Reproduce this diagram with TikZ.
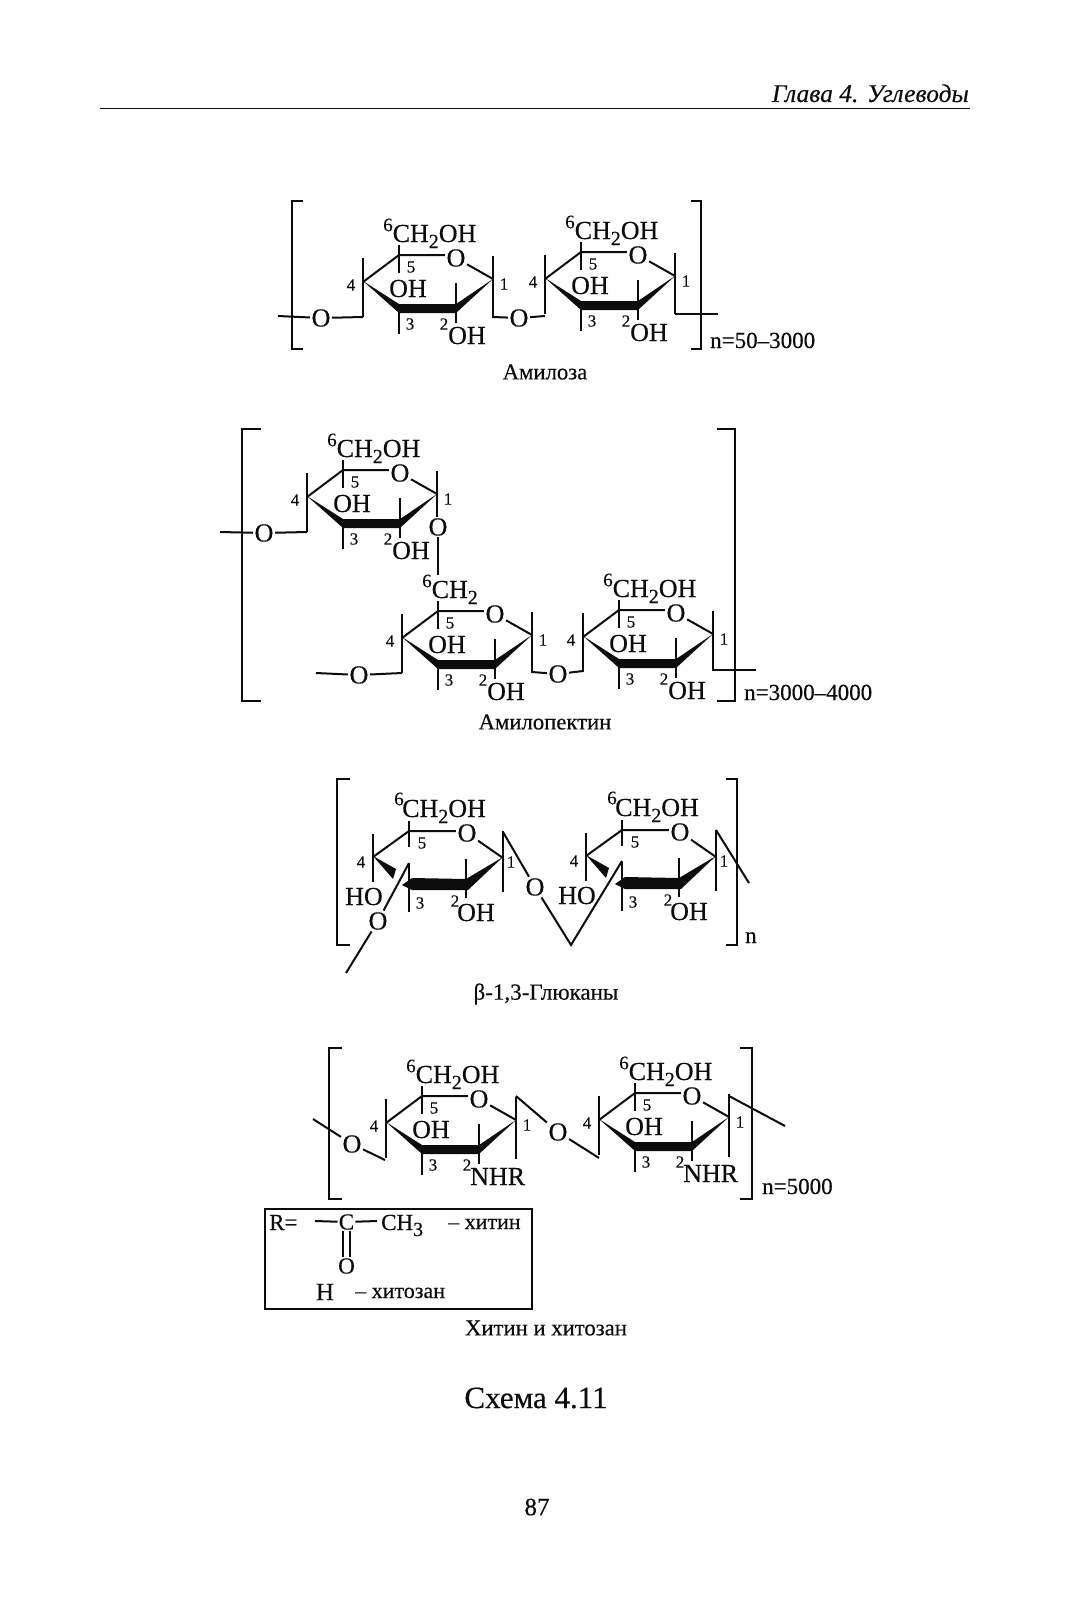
\documentclass[tikz,border=0pt]{standalone}
\usepackage{fontspec}
\setmainfont{Liberation Serif}[FakeBold=0.35]
\newcommand\sbs[1]{\raisebox{-6pt}{\fontsize{20}{20}\selectfont #1}}
\newcommand\fsz[1]{\fontsize{#1}{#1}\selectfont}
\definecolor{ink}{HTML}{0C0C0C}
\tikzset{
  x=1pt,y=-1pt,
  bond/.style={line width=2pt,line cap=butt,line join=miter,draw=ink},
  brk/.style={line width=2.5pt,draw=ink},
  wedgefill/.style={fill=ink,draw=none},
  atom/.style={font=\fsz{26},inner sep=1.5pt,text=ink},
  grp/.style={font=\fsz{26},inner sep=0pt,anchor=base west,text=ink},
  num/.style={font=\fsz{17},inner sep=0pt,text=ink},
  sixlab/.style={font=\fsz{19},inner sep=0pt,text=ink},
  captxt/.style={font=\fsz{22.7},inner sep=0pt,text=ink},
  cnt/.style={font=\fsz{23},inner sep=0pt,anchor=base west,text=ink},
}
% sugar: x, y of C4; bottom of C1 stem; top group; lower group; inner group
\newcommand\sugar[6]{%
 \begin{scope}[shift={(#1,#2)}]
  \node[atom] (ro) at (93,-24) {O};
  \fill[wedgefill] (0,-1) -- (36,22) -- (93,22) -- (130,-3) -- (93,31) -- (36,31) -- cycle;
  \draw[bond] (0,0) -- (36,-27) -- (ro.west |- 36,-27);
  \draw[bond] (ro) -- (130,-3);
  \draw[bond] (0,-24) -- (0,35);
  \draw[bond] (36,-37) -- (36,-9);
  \draw[bond] (36,26) -- (36,52);
  \draw[bond] (93,1) -- (93,41);
  \draw[bond] (130,-26) -- (130,#3);
  \node[grp] at (29.5,-40) {#4};
  \node[sixlab] at (25,-57) {6};
  \node[grp] at (85,62) {#5};
  \node[grp] at (26,15) {#6};
  \node[num] at (48,-15) {5};
  \node[num] at (-12,3) {4};
  \node[num] at (47,42) {3};
  \node[num] at (81,42) {2};
  \node[num] at (141,2) {1};
 \end{scope}}
% glucan sugar, x,y of C4
\newcommand\gsugar[1]{%
 \begin{scope}[shift={#1}]
  \node[atom] (go) at (94,-24) {O};
  \fill[wedgefill] (0,-1) -- (23,12) -- (20,22) -- cycle;
  \fill[wedgefill] (29,28) -- (39,21) -- (93,22) -- (130,0) -- (95,33) -- (39,33) -- cycle;
  \draw[bond] (0,0) -- (36,-26) -- (go.west |- 36,-26);
  \draw[bond] (go) -- (130,1);
  \draw[bond] (0,-23) -- (0,25);
  \draw[bond] (36,-36) -- (36,-10);
  \draw[bond] (36,6) -- (36,55);
  \draw[bond] (93,2) -- (93,41);
  \draw[bond] (130,-26) -- (130,35);
  \node[grp] at (29,-40) {CH\sbs{2}OH};
  \node[sixlab] at (26,-58) {6};
  \node[grp] at (84,64) {OH};
  \node[grp] at (-28,48) {HO};
  \node[num] at (49,-14) {5};
  \node[num] at (-12,5) {4};
  \node[num] at (47,46) {3};
  \node[num] at (82,44) {2};
  \node[num] at (138,5) {1};
 \end{scope}}
\begin{document}
\begin{tikzpicture}
\useasboundingbox (0,0) rectangle (1070,1600);
\fill[white] (0,0) rectangle (1070,1600);
% header
\node[font=\fsz{25.5}\itshape,inner sep=0pt,anchor=base east,text=ink] (hd) at (969,102) {Глава 4. Углеводы};
\coordinate (ra) at (100,108.5); \coordinate (rb) at (970,108.5);
\draw[line width=1.8pt,draw=ink] (ra) -- (rb);

% --- amylose
\draw[brk] (303,201) -- (292,201) -- (292,349) -- (303,349);
\draw[brk] (691,201) -- (701,201) -- (701,349) -- (691,349);
\sugar{363}{282}{36}{CH\sbs{2}OH}{OH}{OH}
\sugar{545}{279}{35}{CH\sbs{2}OH}{OH}{OH}
\node[atom] (a1) at (321,318) {O};
\node[atom] (a2) at (519,318) {O};
\coordinate (a0) at (278,316);
\coordinate (a1r) at (363,317);
\coordinate (a2l) at (493,317);
\coordinate (a2r) at (545,316);
\coordinate (a3) at (718,314); \coordinate (a3l) at (675,314);
\draw[bond] (a0) -- (a1); \draw[bond] (a1) -- (a1r);
\draw[bond] (a2l) -- (a2); \draw[bond] (a2) -- (a2r);
\draw[bond] (a3l) -- (a3);
\node[cnt] (an) at (710,348) {n=50–3000};
\node[captxt] (ac) at (545,372) {Амилоза};

% --- amylopectin
\draw[brk] (261,429) -- (242,429) -- (242,701) -- (261,701);
\draw[brk] (717,429) -- (735,429) -- (735,701) -- (717,701);
\sugar{307}{497}{20}{CH\sbs{2}OH}{OH}{OH}
\sugar{402}{638}{35}{CH\sbs{2}}{OH}{OH}
\sugar{583}{637}{34}{CH\sbs{2}OH}{OH}{OH}
\node[atom] (b1) at (264,533) {O};
\node[atom] (b2) at (438,527) {O};
\node[atom] (b3) at (359,675) {O};
\node[atom] (b4) at (558,674) {O};
\coordinate (b0) at (220,532); \coordinate (b1r) at (307,532);
\coordinate (b2b) at (438,575);
\coordinate (b3l) at (316,673); \coordinate (b3r) at (402,673);
\coordinate (b4l) at (532,672); \coordinate (b4r) at (583,671);
\coordinate (b5l) at (713,670); \coordinate (b5r) at (756,670);
\draw[bond] (b0) -- (b1); \draw[bond] (b1) -- (b1r);
\draw[bond] (b2) -- (b2b);
\draw[bond] (b3l) -- (b3); \draw[bond] (b3) -- (b3r);
\draw[bond] (b4l) -- (b4); \draw[bond] (b4) -- (b4r);
\draw[bond] (b5l) -- (b5r);
\node[cnt] (bn) at (744,700) {n=3000–4000};
\node[captxt] (bc) at (545,722) {Амилопектин};

% --- glucans
\draw[brk] (350,779) -- (337,779) -- (337,945) -- (350,945);
\draw[brk] (726,779) -- (737,779) -- (737,945) -- (726,945);
\gsugar{(373,857)}
\gsugar{(586,856)}
\node[atom] (g1) at (378,921) {O};
\node[atom] (g2) at (535,887) {O};
\coordinate (g1t) at (409,863); \coordinate (g1e) at (346,973);
\coordinate (g2t) at (503,832); \coordinate (g2v) at (571,945); \coordinate (g2r) at (622,861);
\coordinate (g3t) at (716,830); \coordinate (g3e) at (749,883);
\draw[bond] (g1t) -- (g1); \draw[bond] (g1) -- (g1e);
\draw[bond] (g2t) -- (g2); \draw[bond] (g2) -- (g2v) -- (g2r);
\draw[bond] (g3t) -- (g3e);
\node[cnt] (gn) at (745,943) {n};
\node[captxt,font=\fsz{23}] (gc) at (546,994) {β-1,3-Глюканы};

% --- chitin
\draw[brk] (342,1048) -- (329,1048) -- (329,1199) -- (342,1199);
\draw[brk] (740,1048) -- (752,1048) -- (752,1199) -- (740,1199);
\sugar{386}{1123}{36}{CH\sbs{2}OH}{\hspace{-1pt}NHR}{OH}
\sugar{599}{1120}{37}{CH\sbs{2}OH}{\hspace{-1pt}NHR}{OH}
\node[atom] (c1) at (352,1144) {O};
\node[atom] (c2) at (558,1132) {O};
\coordinate (c0) at (313,1119); \coordinate (c1r) at (385,1160);
\coordinate (c2l) at (516,1096); \coordinate (c2r) at (599,1158);
\coordinate (c3l) at (729,1096); \coordinate (c3r) at (785,1126);
\draw[bond] (c0) -- (c1); \draw[bond] (c1) -- (c1r);
\draw[bond] (c2l) -- (c2); \draw[bond] (c2) -- (c2r);
\draw[bond] (c3l) -- (c3r);
\node[cnt] (cn) at (762,1194) {n=5000};
% R box
\node[draw=ink,line width=2.2pt,minimum width=266.5pt,minimum height=100pt,inner sep=0pt,anchor=north west] (box) at (264,1208) {};
\node[font=\fsz{23},inner sep=0pt,anchor=base west,text=ink] (rr) at (269,1230) {R=};
\node[font=\fsz{23},inner sep=1pt,text=ink] (cc) at (346.5,1222) {C};
\node[font=\fsz{23},inner sep=0pt,anchor=base west,text=ink] (ch) at (381,1230) {CH\sbs{3}};
\node[font=\fsz{22},inner sep=0pt,anchor=base west,text=ink] (ht) at (448,1229) {– хитин};
\node[font=\fsz{23},inner sep=1pt,text=ink] (oo) at (346.5,1266) {O};
\node[font=\fsz{25},inner sep=0pt,text=ink] (hh) at (325,1292) {H};
\node[font=\fsz{22},inner sep=0pt,anchor=base west,text=ink] (hz) at (355,1298) {– хитозан};
\coordinate (cl) at (315,1221); \coordinate (cr) at (377,1221);
\draw[bond] (cl) -- (cc); \draw[bond] (cc) -- (cr);
\draw[bond] ([xshift=-3.2pt]cc.south) -- ([xshift=-3.2pt]oo.north);
\draw[bond] ([xshift=3.2pt]cc.south) -- ([xshift=3.2pt]oo.north);
\node[captxt] (xc) at (546,1328) {Хитин и хитозан};

\node[font=\fsz{31},inner sep=0pt,text=ink] (sc) at (536,1398) {Схема 4.11};
\node[font=\fsz{25},inner sep=0pt,text=ink] (pg) at (537,1507) {87};
\end{tikzpicture}
\end{document}
